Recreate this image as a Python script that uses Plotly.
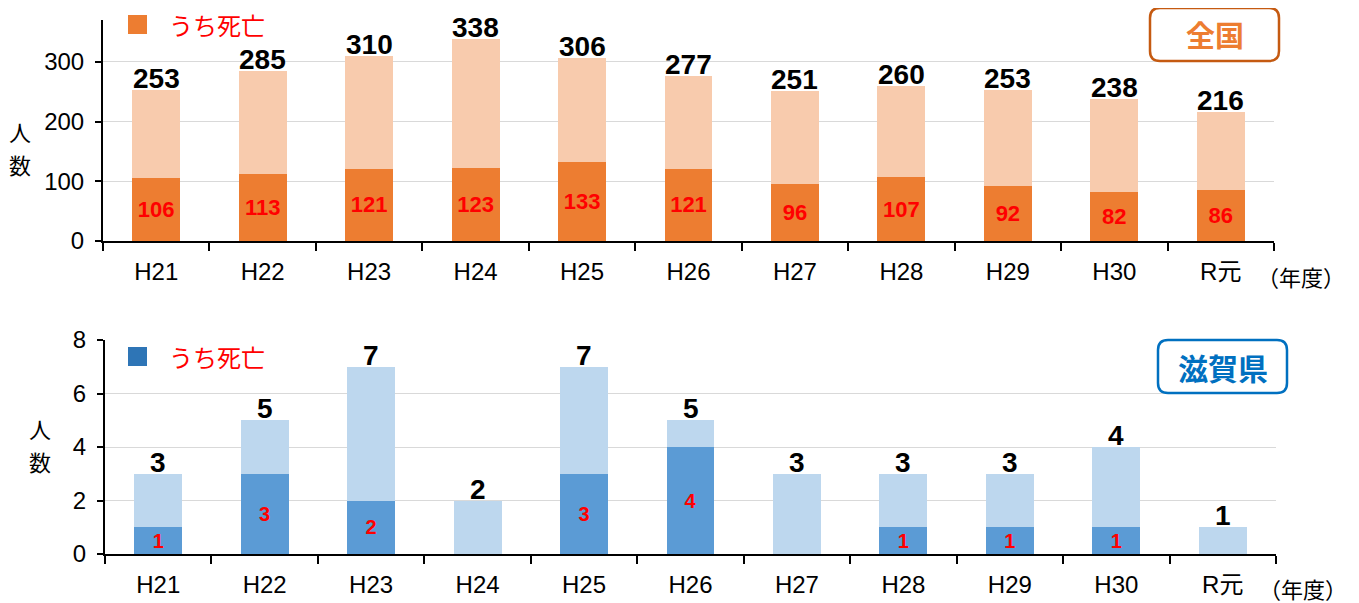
import plotly.graph_objects as go

years = ["H21", "H22", "H23", "H24", "H25", "H26", "H27", "H28", "H29", "H30", "R元"]
national_total = [253, 285, 310, 338, 306, 277, 251, 260, 253, 238, 216]
national_death = [106, 113, 121, 123, 133, 121, 96, 107, 92, 82, 86]
shiga_total = [3, 5, 7, 2, 7, 5, 3, 3, 3, 4, 1]
shiga_death = [1, 3, 2, 0, 3, 4, 0, 1, 1, 1, 0]

OFF = 8  # page body margin
W, H = 1359 - OFF, 603 - OFF
NUM_FONT = "Liberation Sans, Arial, Noto Sans CJK JP, sans-serif"
JP_FONT = "Noto Sans CJK JP, sans-serif"

ORANGE_D, ORANGE_L = "#ED7D31", "#F8CBAD"
BLUE_D, BLUE_L = "#5B9BD5", "#BDD7EE"


def px(x):
    return (x - OFF) / W


def py(y):
    return 1 - (y - OFF) / H


fig = go.Figure()
annotations = []


def add_pair(total, death, dark, light, xa, ya, inner_size):
    rest = [t - d for t, d in zip(total, death)]
    fig.add_trace(go.Bar(
        x=years, y=death, marker=dict(color=dark, line=dict(width=0)),
        text=[str(d) if d > 0 else "" for d in death], textposition="inside",
        insidetextanchor="middle", constraintext="none", textangle=0,
        textfont=dict(color="#FF0000", size=inner_size, family=NUM_FONT, weight="bold"),
        xaxis=xa, yaxis=ya, showlegend=False, hoverinfo="skip"))
    fig.add_trace(go.Bar(
        x=years, y=rest, marker=dict(color=light, line=dict(width=0)),
        xaxis=xa, yaxis=ya, showlegend=False, hoverinfo="skip"))
    for yr, t in zip(years, total):
        annotations.append(dict(
            text=f"<b>{t}</b>", x=yr, y=t, xref=xa, yref=ya,
            xanchor="center", yanchor="bottom", yshift=-6, showarrow=False,
            font=dict(family=NUM_FONT, size=28, color="#000000")))


add_pair(national_total, national_death, ORANGE_D, ORANGE_L, "x", "y", 22)
add_pair(shiga_total, shiga_death, BLUE_D, BLUE_L, "x2", "y2", 20)

xcommon = dict(type="category", showline=True, linecolor="#000000", linewidth=2,
               ticks="outside", tickson="boundaries", ticklen=8, tickwidth=2,
               tickcolor="#000000", showgrid=False, automargin=False,
               ticklabelstandoff=8,
               tickfont=dict(family=NUM_FONT, size=24, color="#000000"))
ycommon = dict(showline=True, linecolor="#000000", linewidth=2, ticks="outside",
               ticklen=6, tickwidth=2, tickcolor="#000000", showgrid=True,
               gridcolor="#D9D9D9", gridwidth=1, zeroline=False, automargin=False,
               ticklabelstandoff=6,
               tickfont=dict(family=NUM_FONT, size=24, color="#000000"))

fig.update_layout(
    width=W, height=H, margin=dict(l=0, r=0, t=0, b=0, autoexpand=False),
    paper_bgcolor="white", plot_bgcolor="white",
    barmode="stack", bargap=0.55,
    xaxis=dict(domain=[px(103), px(1274)], anchor="y", **xcommon),
    yaxis=dict(domain=[py(241), py(20)], anchor="x", range=[0, 370],
               tickvals=[0, 100, 200, 300], **ycommon),
    xaxis2=dict(domain=[px(105), px(1276)], anchor="y2", **xcommon),
    yaxis2=dict(domain=[py(554), py(340)], anchor="x2", range=[0, 8],
                tickvals=[0, 2, 4, 6, 8], **ycommon),
)

shapes = []

# legends
for (sx0, sy0, color, ty) in [(128, 15, ORANGE_D, 24), (128, 347, "#2E75B6", 356)]:
    shapes.append(dict(type="rect", xref="paper", yref="paper",
                       x0=px(sx0), x1=px(sx0 + 19), y0=py(sy0 + 19), y1=py(sy0),
                       fillcolor=color, line=dict(width=0)))
    annotations.append(dict(text="うち死亡", xref="paper", yref="paper",
                            x=px(167), y=py(ty), xanchor="left", yanchor="middle",
                            showarrow=False,
                            font=dict(family=JP_FONT, size=24, color="#FF0000")))


def rounded(x0, y0, x1, y1, r):
    pts = [
        f"M {px(x0 + r)},{py(y0)}",
        f"L {px(x1 - r)},{py(y0)}",
        f"Q {px(x1)},{py(y0)} {px(x1)},{py(y0 + r)}",
        f"L {px(x1)},{py(y1 - r)}",
        f"Q {px(x1)},{py(y1)} {px(x1 - r)},{py(y1)}",
        f"L {px(x0 + r)},{py(y1)}",
        f"Q {px(x0)},{py(y1)} {px(x0)},{py(y1 - r)}",
        f"L {px(x0)},{py(y0 + r)}",
        f"Q {px(x0)},{py(y0)} {px(x0 + r)},{py(y0)}",
        "Z",
    ]
    return " ".join(pts)


for (bx0, by0, bx1, by1, border, tcolor, label, fs) in [
    (1150, 8, 1279, 61, "#C55A11", ORANGE_D, "全国", 29),
    (1158, 340, 1287, 393, "#0070C0", "#0070C0", "滋賀県", 30),
]:
    shapes.append(dict(type="path", xref="paper", yref="paper",
                       path=rounded(bx0, by0, bx1, by1, 10),
                       line=dict(color=border, width=2.5), fillcolor="white"))
    annotations.append(dict(text=f"<b>{label}</b>", xref="paper", yref="paper",
                            x=px((bx0 + bx1) / 2), y=py((by0 + by1) / 2),
                            xanchor="center", yanchor="middle", showarrow=False,
                            font=dict(family=JP_FONT, size=fs, color=tcolor)))

# axis titles (one character per annotation, stacked vertically)
for (ax, ay1, ay2) in [(20, 131, 164), (40, 428, 461)]:
    for ch, ay in (("人", ay1), ("数", ay2)):
        annotations.append(dict(text=ch, xref="paper", yref="paper",
                                x=px(ax), y=py(ay), xanchor="center", yanchor="middle",
                                showarrow=False,
                                font=dict(family=JP_FONT, size=22, color="#000000")))
for (ax, ay) in [(1301, 276), (1303, 588)]:
    annotations.append(dict(text="（年度）", xref="paper", yref="paper",
                            x=px(ax), y=py(ay), xanchor="center", yanchor="middle",
                            showarrow=False,
                            font=dict(family=JP_FONT, size=22, color="#000000")))

fig.update_layout(shapes=shapes, annotations=annotations)
fig.write_html("out.html")
